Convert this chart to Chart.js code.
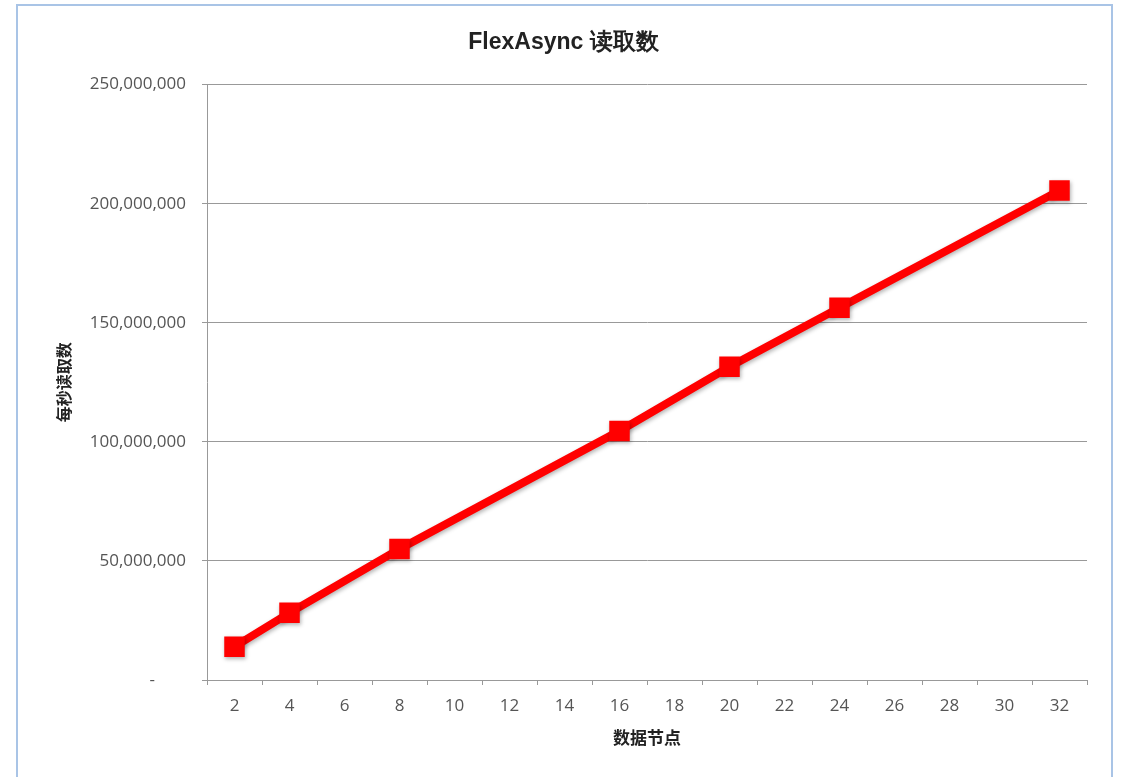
<!DOCTYPE html>
<html>
<head>
<meta charset="utf-8">
<script src="https://cdn.jsdelivr.net/npm/chart.js@4.4.1/dist/chart.umd.min.js"></script>
<style>
  body { margin: 0; background: #fff; }
  #frame {
    position: absolute; left: 16px; top: 4px; width: 1093px; height: 800px;
    border: 2px solid #a9c4e6; border-bottom: none;
  }
  #chart { position: absolute; left: 0; top: 0; }
</style>
</head>
<body>
<div id="frame"></div>
<canvas id="chart" width="1122" height="777"></canvas>
<script>
// Categories on the x axis (data nodes)
const nodeLabels = ['2', '4', '6', '8', '10', '12', '14', '16', '18', '20', '22', '24', '26', '28', '30', '32'];

// Reads per second, null where there is no measurement
const readsPerSecond = [14000000, 28200000, null, 55000000, null, null, null, 104600000,
                        null, 131500000, null, 156300000, null, null, null, 205500000];

// Y axis range
const yMin = 0;
const yMax = 250000000;
const yStep = 50000000;

// Soft shadow under the line and markers
const shadowPlugin = {
    id: 'lineShadow',
    beforeDatasetDraw(chart) {
        const ctx = chart.ctx;
        ctx.save();
        ctx.shadowColor = 'rgba(0, 0, 0, 0.3)';
        ctx.shadowBlur = 4;
        ctx.shadowOffsetX = 1;
        ctx.shadowOffsetY = 2;
    },
    afterDatasetDraw(chart) {
        chart.ctx.restore();
    }
};

const ctx = document.getElementById('chart').getContext('2d');
const chart = new Chart(ctx, {
    type: 'line',
    data: {
        labels: nodeLabels,
        datasets: [{
            label: 'FlexAsync',
            data: readsPerSecond,
            borderColor: '#ff0000',
            backgroundColor: '#ff0000',
            borderWidth: 8,
            pointStyle: 'rect',
            pointRadius: 14.5,
            pointBackgroundColor: '#ff0000',
            pointBorderWidth: 0,
            spanGaps: true,
            tension: 0
        }]
    },
    options: {
        responsive: false,
        animation: false,
        devicePixelRatio: 1,
        layout: { padding: { left: 40, right: 35, top: 0, bottom: 0 } },
        plugins: {
            legend: { display: false },
            tooltip: { enabled: false },
            title: {
                display: true,
                text: 'FlexAsync 读取数',
                color: '#222',
                font: { family: 'Liberation Sans', size: 23, weight: 'bold' },
                padding: { top: 29, bottom: 28 }
            }
        },
        scales: {
            x: {
                type: 'category',
                offset: true,
                afterFit(scale) { scale.height = 97; },
                grid: {
                    display: true,
                    drawOnChartArea: false,
                    offset: true,
                    tickLength: 5,
                    color: '#999'
                },
                border: { color: '#999', width: 1 },
                ticks: {
                    color: '#555',
                    padding: 11,
                    font: { family: 'Open Sans', size: 17 },
                    maxRotation: 0,
                    autoSkip: false
                },
                title: {
                    display: true,
                    text: '数据节点',
                    color: '#222',
                    font: { family: 'Noto Sans CJK SC', size: 17, weight: 'bold' },
                    padding: { top: 0, bottom: 29 }
                }
            },
            y: {
                min: yMin,
                max: yMax,
                afterFit(scale) { scale.width = 167; },
                grid: {
                    color: '#999',
                    tickLength: 5
                },
                border: { color: '#999', width: 1 },
                ticks: {
                    stepSize: yStep,
                    color: '#555',
                    padding: 16,
                    font: { family: 'Open Sans', size: 17 },
                    callback: value => value === 0 ? '-' + '\u00a0'.repeat(7) : value.toLocaleString('en-US')
                },
                title: {
                    display: true,
                    text: '每秒读取数',
                    color: '#222',
                    font: { family: 'Noto Sans CJK SC', size: 16, weight: 'bold' },
                    padding: { top: 14, bottom: 0 }
                }
            }
        }
    },
    plugins: [shadowPlugin]
});
</script>
</body>
</html>
